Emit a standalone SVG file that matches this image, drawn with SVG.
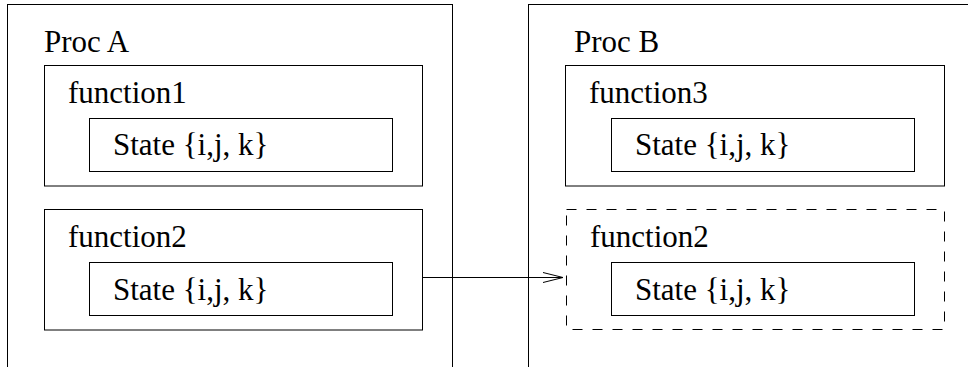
<svg xmlns="http://www.w3.org/2000/svg" width="968" height="367" viewBox="0 0 968 367">
<style>
.box{fill:none;stroke:#000;stroke-width:1}
.dash{fill:none;stroke:#000;stroke-width:1;stroke-dasharray:10,10}
.t{font-family:"Liberation Serif","Times New Roman",serif;font-size:31px;fill:#000}
.c{fill:none;stroke:#000;stroke-width:1}
</style>
<defs>
<marker id="open" markerWidth="22" markerHeight="12" refX="20" refY="5" orient="auto" markerUnits="userSpaceOnUse" overflow="visible">
<polyline points="0,0 20,5 0,10" fill="none" stroke="#000" stroke-width="1"/>
</marker>
</defs>
<g id="procA">
<rect class="box" x="7.5" y="4.5" width="445" height="400"/>
<text class="t" x="44" y="52">Proc A</text>
</g>
<g id="procB">
<rect class="box" x="528.5" y="4.5" width="500" height="400"/>
<text class="t" x="574" y="52">Proc B</text>
</g>
<g id="function1">
<rect class="box" x="44.5" y="65.5" width="378" height="120.5"/>
<text class="t" x="68" y="103">function1</text>
</g>
<g id="stateA1">
<rect class="box" x="89.5" y="118.5" width="303" height="53"/>
<text class="t" x="113" y="155">State {i,j, k}</text>
</g>
<g id="function2A">
<rect class="box" x="44.5" y="209.5" width="378" height="120.5"/>
<text class="t" x="68" y="247">function2</text>
</g>
<g id="stateA2">
<rect class="box" x="89.5" y="262.5" width="303" height="53"/>
<text class="t" x="113" y="300">State {i,j, k}</text>
</g>
<g id="function3">
<rect class="box" x="565.5" y="65.5" width="379" height="120.5"/>
<text class="t" x="589" y="103">function3</text>
</g>
<g id="stateB1">
<rect class="box" x="611.5" y="118.5" width="303" height="53"/>
<text class="t" x="635" y="155">State {i,j, k}</text>
</g>
<g id="function2B">
<rect class="dash" x="566.5" y="209.5" width="378" height="120"/>
<text class="t" x="590" y="247">function2</text>
</g>
<g id="stateB2">
<rect class="box" x="611.5" y="262.5" width="303" height="53"/>
<text class="t" x="635" y="300">State {i,j, k}</text>
</g>
<g id="connectors">
<line class="c" x1="422.5" y1="277.5" x2="563" y2="277.5" marker-end="url(#open)"/>
</g>
</svg>
